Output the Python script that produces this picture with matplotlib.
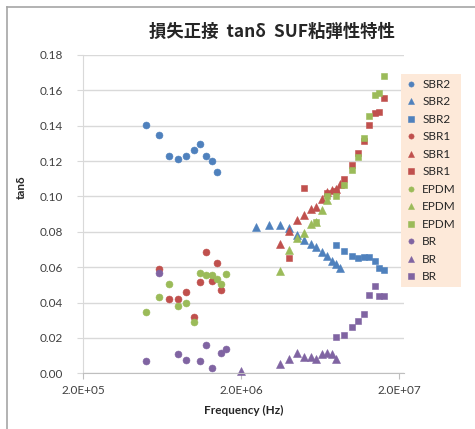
import numpy as np
import matplotlib.pyplot as plt
from matplotlib.lines import Line2D

# frequencies (Hz) and tan-delta readings for each sample / measurement set
sbr2_c_f = [5e5, 6e5, 7e5, 8e5, 9e5, 1.0e6, 1.1e6, 1.2e6, 1.3e6, 1.4e6]
sbr2_c_v = [0.1406, 0.1349, 0.1230, 0.1211, 0.1230, 0.1263, 0.1298, 0.1227, 0.1199, 0.1138]
sbr2_t_f = [2.5e6, 3e6, 3.5e6, 4e6, 4.5e6, 5e6, 5.5e6, 6e6, 6.5e6, 7e6, 7.5e6, 8e6, 8.5e6]
sbr2_t_v = [0.0827, 0.0840, 0.0837, 0.0820, 0.0784, 0.0754, 0.0733, 0.0713, 0.0688, 0.0663, 0.0637, 0.0616, 0.0594]
sbr2_s_f = [8e6, 9e6, 1.0e7, 1.1e7, 1.2e7, 1.3e7, 1.4e7, 1.5e7, 1.6e7]
sbr2_s_v = [0.0724, 0.0690, 0.0663, 0.0650, 0.0659, 0.0659, 0.0637, 0.0594, 0.0582]

sbr1_c_f = [6e5, 7e5, 8e5, 9e5, 1.0e6, 1.1e6, 1.2e6, 1.3e6, 1.4e6, 1.5e6]
sbr1_c_v = [0.0590, 0.0422, 0.0422, 0.0460, 0.0317, 0.0515, 0.0684, 0.0522, 0.0624, 0.0469]
sbr1_t_f = [3.5e6, 4e6, 4.5e6, 5e6, 5.5e6, 6e6, 6.5e6, 7e6, 7.5e6, 8e6, 8.5e6]
sbr1_t_v = [0.0730, 0.0805, 0.0867, 0.0895, 0.0929, 0.0939, 0.0986, 0.1027, 0.1037, 0.1041, 0.1071]
sbr1_s_f = [4e6, 5e6, 7e6, 8e6, 9e6, 1.0e7, 1.1e7, 1.2e7, 1.3e7, 1.4e7, 1.5e7, 1.6e7]
sbr1_s_v = [0.0650, 0.1050, 0.1021, 0.1033, 0.1097, 0.1178, 0.1243, 0.1312, 0.1402, 0.1474, 0.1476, 0.1559]

epdm_c_f = [5e5, 6e5, 7e5, 8e5, 9e5, 1.0e6, 1.1e6, 1.2e6, 1.3e6, 1.4e6, 1.5e6, 1.6e6]
epdm_c_v = [0.0347, 0.0430, 0.0503, 0.0382, 0.0398, 0.0290, 0.0566, 0.0554, 0.0558, 0.0533, 0.0503, 0.0560]
epdm_t_f = [3.5e6, 4e6, 4.5e6, 5e6, 5.5e6, 6e6, 6.5e6, 7e6]
epdm_t_v = [0.0580, 0.0699, 0.0765, 0.0792, 0.0844, 0.0857, 0.0922, 0.0980]
epdm_s_f = [6e6, 7e6, 8e6, 9e6, 1.0e7, 1.1e7, 1.2e7, 1.3e7, 1.4e7, 1.5e7, 1.6e7]
epdm_s_v = [0.0856, 0.1003, 0.1003, 0.1063, 0.1150, 0.1225, 0.1331, 0.1455, 0.1574, 0.1587, 0.1681]

br_c_f = [5e5, 6e5, 8e5, 9e5, 1.1e6, 1.2e6, 1.3e6, 1.5e6, 1.6e6]
br_c_v = [0.0068, 0.0566, 0.0109, 0.0075, 0.0071, 0.0158, 0.0032, 0.0113, 0.0139]
br_t_f = [2e6, 3.5e6, 4e6, 4.5e6, 5e6, 5.5e6, 6e6, 6.5e6, 7e6, 7.5e6, 8e6]
br_t_v = [0.0015, 0.0054, 0.0079, 0.0116, 0.0094, 0.0090, 0.0083, 0.0109, 0.0115, 0.0109, 0.0083]
br_s_f = [8e6, 9e6, 1.0e7, 1.1e7, 1.2e7, 1.3e7, 1.4e7, 1.5e7, 1.6e7]
br_s_v = [0.0205, 0.0217, 0.0264, 0.0296, 0.0337, 0.0443, 0.0494, 0.0437, 0.0437]

y_ticks = [0.00, 0.02, 0.04, 0.06, 0.08, 0.10, 0.12, 0.14, 0.16, 0.18]
x_ticks = [2e5, 2e6, 2e7]
x_ticklabels = ['2.0E+05', '2.0E+06', '2.0E+07']

plt.rcParams['font.family'] = ['Lato', 'DejaVu Sans']

series = [
    ('SBR2', sbr2_c_f, sbr2_c_v, '#4F81BD', 'o'),
    ('SBR2', sbr2_t_f, sbr2_t_v, '#4F81BD', '^'),
    ('SBR2', sbr2_s_f, sbr2_s_v, '#4F81BD', 's'),
    ('SBR1', sbr1_c_f, sbr1_c_v, '#C0504D', 'o'),
    ('SBR1', sbr1_t_f, sbr1_t_v, '#C0504D', '^'),
    ('SBR1', sbr1_s_f, sbr1_s_v, '#C0504D', 's'),
    ('EPDM', epdm_c_f, epdm_c_v, '#9BBB59', 'o'),
    ('EPDM', epdm_t_f, epdm_t_v, '#9BBB59', '^'),
    ('EPDM', epdm_s_f, epdm_s_v, '#9BBB59', 's'),
    ('BR', br_c_f, br_c_v, '#8064A2', 'o'),
    ('BR', br_t_f, br_t_v, '#8064A2', '^'),
    ('BR', br_s_f, br_s_v, '#8064A2', 's'),
]

fig = plt.figure(figsize=(4.75, 4.29), dpi=100)
ax = fig.add_axes([0.1754, 0.1298, 0.6751, 0.742])

sizes = {'o': 5.0, '^': 5.6, 's': 5.0}
for name, f, v, col, mk in series:
    ax.plot(f, v, linestyle='none', marker=mk, ms=sizes[mk], color=col,
            markeredgecolor=col, markeredgewidth=0.4, label=name, clip_on=False)

ax.set_xscale('log')
ax.set_xlim(2e5, 2.15e7)
ax.set_ylim(0, 0.18)
ax.set_xticks(x_ticks)
ax.set_xticklabels(x_ticklabels)
ax.xaxis.set_minor_locator(plt.NullLocator())
ax.set_yticks(y_ticks)
ax.set_yticklabels(['%.2f' % t for t in y_ticks])

ax.grid(axis='y', color='#d9d9d9', linewidth=1.0)
ax.set_axisbelow(True)
for s in ['top', 'right']:
    ax.spines[s].set_visible(False)
ax.spines['left'].set_color('#d9d9d9')
ax.spines['bottom'].set_color('#bfbfbf')
ax.tick_params(axis='y', length=4.5, color='#d9d9d9', pad=10, labelsize=8.5, labelcolor='#404040')
ax.tick_params(axis='x', length=4, color='#bfbfbf', pad=4.5, labelsize=8.5, labelcolor='#404040')

ax.set_xlabel('Frequency (Hz)', fontsize=8.5, fontweight='bold', color='#262626', labelpad=6)
ax.set_ylabel('tanδ', fontsize=8.5, fontweight='bold', color='#262626')
ax.yaxis.set_label_coords(-0.175, 0.585)

fig.text(0.573, 0.925, '損失正接  tanδ  SUF粘弾性特性', ha='center', va='center',
         fontsize=12.5, fontweight='bold', color='#262626',
         family=['Noto Sans CJK JP', 'DejaVu Sans'])

leg = fig.legend(loc='upper left', bbox_to_anchor=(0.844, 0.8275), fontsize=8.5,
                 frameon=True, fancybox=False, facecolor='#FDE9D9', edgecolor='none',
                 framealpha=1, markerscale=0.75, handlelength=0.9, handletextpad=0.5,
                 labelspacing=0.55, borderpad=0.4, borderaxespad=0)
for t in leg.get_texts():
    t.set_color('#262626')

# outer chart frame (only top and left edges fall inside the picture)
fig.add_artist(Line2D([7 / 475, 7 / 475], [0, 1 - 7 / 429], transform=fig.transFigure,
                      color='#a6a6a6', linewidth=1.2))
fig.add_artist(Line2D([7 / 475, 1], [1 - 7 / 429, 1 - 7 / 429], transform=fig.transFigure,
                      color='#a6a6a6', linewidth=1.2))

fig.savefig('out.png', dpi=100)
